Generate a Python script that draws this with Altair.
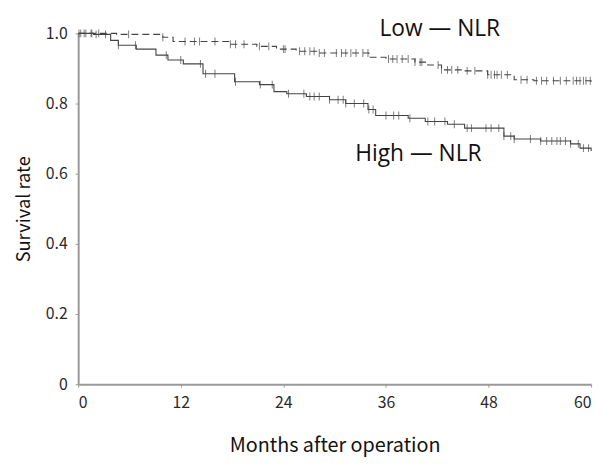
import altair as alt
import pandas as pd

# Kaplan-Meier step points (months, survival)
low_t = [0, 4.5, 9.9, 11.1, 17.8, 20.9, 23.2, 25.5, 27.9, 34.0, 36.0, 39.4, 40.9, 42.5, 45.2, 47.9, 51.0, 53.3, 60]
low_s = [1.0, 0.997, 0.989, 0.977, 0.969, 0.963, 0.955, 0.949, 0.944, 0.932, 0.927, 0.918, 0.910, 0.896, 0.893, 0.882, 0.868, 0.865, 0.862]

high_t = [0, 1.8, 3.8, 4.7, 6.8, 9.1, 10.5, 12.3, 14.6, 18.3, 21.2, 22.9, 24.4, 26.7, 29.4, 31.3, 33.9, 34.8, 38.6, 40.6, 43.2, 45.2, 49.8, 51.0, 54.1, 57.6, 58.7, 60]
high_s = [1.0, 0.997, 0.980, 0.966, 0.955, 0.938, 0.924, 0.913, 0.885, 0.862, 0.854, 0.834, 0.828, 0.820, 0.811, 0.800, 0.783, 0.766, 0.758, 0.749, 0.741, 0.730, 0.707, 0.699, 0.693, 0.685, 0.673, 0.665]

# Censoring times (months)
low_cens = [0.1, 0.7, 1.5, 2.4, 5.9, 9.9, 12.5, 13.6, 14.2, 16.0, 17.8, 18.4, 19.4, 21.2, 22.3, 24.0, 24.2,
            25.9, 26.5, 27.1, 27.6, 28.2, 28.8, 30.2, 30.8, 31.3, 31.9, 32.5, 33.3, 33.9, 36.3, 36.8, 37.3,
            37.9, 38.6, 39.4, 40.0, 40.2, 42.1, 42.5, 43.2, 43.7, 44.4, 45.5, 46.4, 47.9, 48.3, 48.7, 49.0,
            49.5, 50.2, 51.8, 52.5, 53.6, 54.2, 54.8, 55.6, 56.4, 57.1, 57.9, 58.3, 58.7, 59.1, 59.4, 59.9]
high_cens = [0.3, 0.9, 1.6, 2.1, 3.2, 4.7, 6.7, 10.3, 12.0, 14.3, 14.9, 16.0, 18.4, 21.3, 22.7, 24.6, 26.4,
             27.1, 27.6, 28.2, 29.4, 30.4, 31.0, 31.3, 32.3, 33.4, 34.0, 34.5, 36.0, 36.9, 37.5, 38.8, 40.9,
             41.7, 42.9, 44.0, 45.5, 46.0, 47.7, 48.3, 49.2, 49.8, 50.6, 51.0, 52.9, 54.1, 54.8, 55.4, 56.0,
             56.4, 57.0, 57.6, 58.5, 59.1, 59.7]

labels = ["Low \u2014 NLR", "High \u2014 NLR"]
label_x = [42.3, 39.8]
label_y = [1.011, 0.656]


def surv_at(ts, ss, t):
    v = ss[0]
    for a, b in zip(ts, ss):
        if a <= t:
            v = b
    return v


curve = pd.DataFrame(
    [{"group": "Low", "t": t, "s": s} for t, s in zip(low_t, low_s)]
    + [{"group": "High", "t": t, "s": s} for t, s in zip(high_t, high_s)]
)
cens = pd.DataFrame(
    [{"group": "Low", "t": t, "s": surv_at(low_t, low_s, t)} for t in low_cens]
    + [{"group": "High", "t": t, "s": surv_at(high_t, high_s, t)} for t in high_cens]
)
ann = pd.DataFrame({"label": labels, "x": label_x, "y": label_y})

FONT = "Noto Sans CJK JP"

xscale = alt.Scale(domain=[0, 60], nice=False, zero=True)
yscale = alt.Scale(domain=[0, 1.0], nice=False)

xaxis = alt.Axis(values=[0, 12, 24, 36, 48, 60], title="Months after operation", grid=False,
                 tickSize=3, labelPadding=8, titlePadding=25, domainColor="#999999", domainWidth=2,
                 tickColor="#999999", labelFont=FONT, titleFont=FONT, labelFontSize=16, titleFontSize=20,
                 labelColor="#2a2a2a", titleColor="#111111", titleFontWeight="normal")
yaxis = alt.Axis(values=[0, 0.2, 0.4, 0.6, 0.8, 1.0], title="Survival rate", grid=False,
                 tickSize=3, labelPadding=8, titlePadding=12, domainColor="#999999", domainWidth=2,
                 tickColor="#999999", labelFont=FONT, titleFont=FONT, labelFontSize=16, titleFontSize=18.5,
                 labelColor="#2a2a2a", titleColor="#111111", titleFontWeight="normal",
                 labelExpr="datum.value == 0 ? '0' : format(datum.value, '.1f')")

low_line = alt.Chart(curve).transform_filter("datum.group == 'Low'").mark_line(
    interpolate="step-after", color="#444444", strokeWidth=1.1, strokeDash=[7, 4]
).encode(x=alt.X("t:Q", scale=xscale, axis=xaxis), y=alt.Y("s:Q", scale=yscale, axis=yaxis))

high_line = alt.Chart(curve).transform_filter("datum.group == 'High'").mark_line(
    interpolate="step-after", color="#444444", strokeWidth=1.1
).encode(x=alt.X("t:Q", scale=xscale), y=alt.Y("s:Q", scale=yscale))

ticks = alt.Chart(cens).mark_tick(orient="vertical", color="#444444", thickness=1, size=8).encode(
    x=alt.X("t:Q", scale=xscale), y=alt.Y("s:Q", scale=yscale)
)

text = alt.Chart(ann).mark_text(font="Open Sans", fontSize=23, color="#111111", clip=False).encode(
    x=alt.X("x:Q", scale=xscale), y=alt.Y("y:Q", scale=yscale), text="label:N"
)

chart = alt.layer(low_line, high_line, ticks, text).properties(
    width=519, height=355,
    autosize=alt.AutoSizeParams(type="none"),
    padding={"left": 71, "top": 23, "right": 10, "bottom": 73},
    background="white",
).configure_view(stroke=None)

chart.save("out.html", embed_options={"renderer": "svg", "actions": False})
